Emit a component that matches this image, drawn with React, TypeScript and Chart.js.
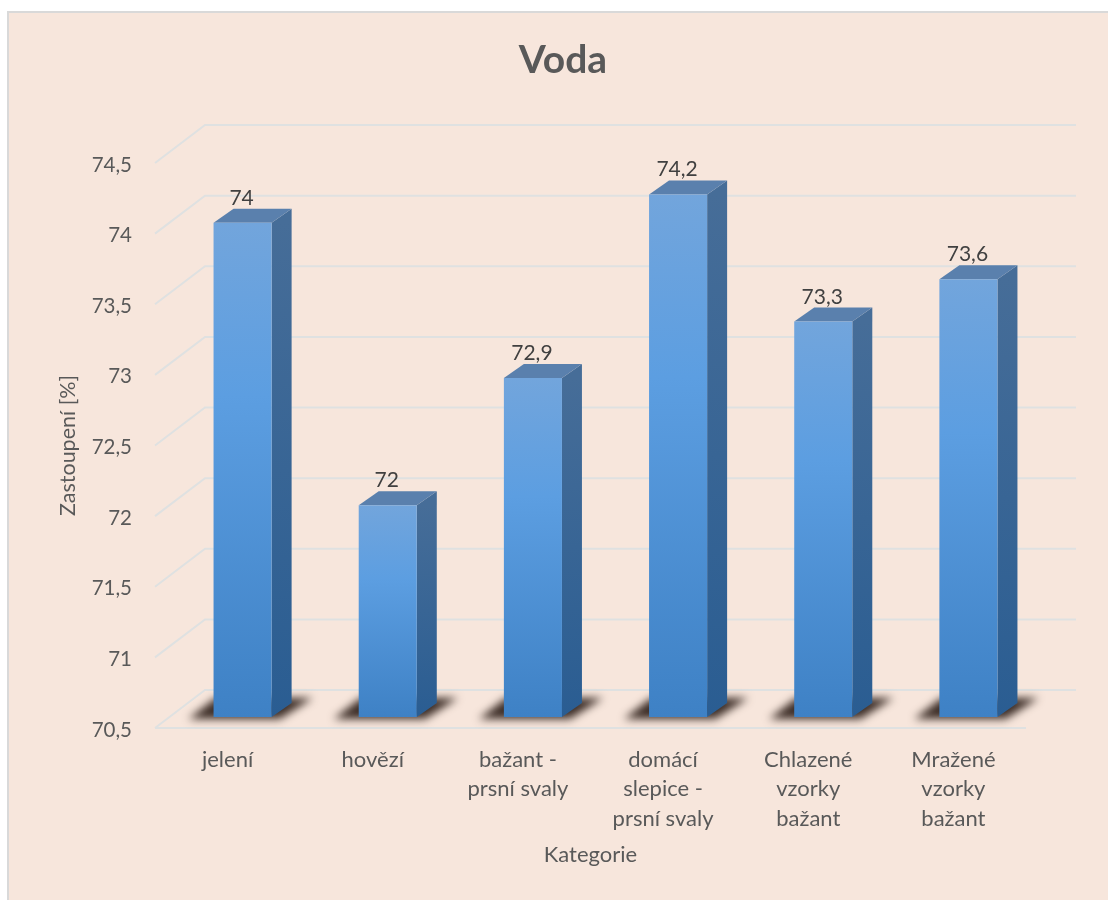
import React, { useEffect, useRef } from "react";
import { Chart, registerables } from "chart.js";

Chart.register(...registerables);

const categories = [
  "jelení",
  "hovězí",
  ["bažant -", "prsní svaly"],
  ["domácí", "slepice -", "prsní svaly"],
  ["Chlazené", "vzorky", "bažant"],
  ["Mražené", "vzorky", "bažant"],
];
const waterShare = [74, 72, 72.9, 74.2, 73.3, 73.6];
const axisMin = 70.5;
const axisMax = 74.5;
const axisStep = 0.5;

const FONT = "Lato, 'Open Sans', sans-serif";
const TEXT = "#595959";
const GRID = "#dfe1e1";

// Box projection: wall sits behind the axis plane, bars stand halfway through the depth.
const WALL_DX = 50;
const WALL_DY = -38;
const BAR_DX = 15;
const BAR_DY = -11;
const SIDE_DX = 20;
const SIDE_DY = -14;

const comma = (v: number) => String(v).replace(".", ",");

const box3d = {
  id: "box3d",
  beforeDatasetsDraw(chart: any) {
    const { ctx, chartArea, scales } = chart;
    const bars = chart.getDatasetMeta(0).data;

    // Wall and side-wall grid lines
    ctx.save();
    ctx.strokeStyle = GRID;
    ctx.lineWidth = 2;
    scales.y.ticks.forEach((t: any) => {
      const y = scales.y.getPixelForValue(t.value);
      ctx.beginPath();
      ctx.moveTo(chartArea.left, y);
      ctx.lineTo(chartArea.left + WALL_DX, y + WALL_DY);
      ctx.lineTo(chartArea.right + WALL_DX, y + WALL_DY);
      ctx.stroke();
    });
    const floorY = scales.y.getPixelForValue(axisMin);
    ctx.beginPath();
    ctx.moveTo(chartArea.left, floorY);
    ctx.lineTo(chartArea.right, floorY);
    ctx.stroke();
    ctx.restore();

    ctx.save();
    ctx.translate(BAR_DX, BAR_DY);

    // Cast shadows on the floor
    bars.forEach((b: any) => {
      const left = b.x - b.width / 2;
      const right = b.x + b.width / 2;
      ctx.save();
      ctx.filter = "blur(4px)";
      ctx.fillStyle = "rgba(50,35,28,0.95)";
      ctx.beginPath();
      ctx.moveTo(left - 25, b.base + 2);
      ctx.lineTo(left + 2, b.base - 19);
      ctx.lineTo(right + 41, b.base - 19);
      ctx.lineTo(right + 8, b.base + 2);
      ctx.closePath();
      ctx.fill();
      ctx.restore();
    });

    // Side and top faces
    bars.forEach((b: any) => {
      const right = b.x + b.width / 2;
      const left = b.x - b.width / 2;
      const side = ctx.createLinearGradient(0, b.y, 0, b.base);
      side.addColorStop(0, "#466d98");
      side.addColorStop(1, "#2a5d92");
      ctx.fillStyle = side;
      ctx.beginPath();
      ctx.moveTo(right, b.y);
      ctx.lineTo(right + SIDE_DX, b.y + SIDE_DY);
      ctx.lineTo(right + SIDE_DX, b.base + SIDE_DY);
      ctx.lineTo(right, b.base);
      ctx.closePath();
      ctx.fill();

      ctx.fillStyle = "#5a80ad";
      ctx.beginPath();
      ctx.moveTo(left, b.y);
      ctx.lineTo(left + SIDE_DX, b.y + SIDE_DY);
      ctx.lineTo(right + SIDE_DX, b.y + SIDE_DY);
      ctx.lineTo(right, b.y);
      ctx.closePath();
      ctx.fill();
    });
  },
  afterDatasetsDraw(chart: any) {
    const { ctx } = chart;
    ctx.restore();

    // Value labels above each bar
    const bars = chart.getDatasetMeta(0).data;
    ctx.save();
    ctx.font = `21px ${FONT}`;
    ctx.fillStyle = "#404040";
    ctx.textAlign = "center";
    ctx.textBaseline = "alphabetic";
    bars.forEach((b: any, i: number) => {
      ctx.fillText(comma(waterShare[i]), b.x + BAR_DX - 1, b.y + BAR_DY - 18);
    });
    ctx.restore();
  },
};

export default function App() {
  const ref = useRef<HTMLCanvasElement>(null);

  useEffect(() => {
    const chart = new Chart(ref.current!, {
      type: "bar",
      data: {
        labels: categories as any,
        datasets: [
          {
            data: waterShare,
            base: axisMin,
            barPercentage: 0.8,
            categoryPercentage: 0.5,
            clip: false as any,
            backgroundColor: (c: any) => {
              const yScale = c.chart.scales.y;
              const value = c.parsed ? c.parsed.y : undefined;
              const top = yScale && value !== undefined ? yScale.getPixelForValue(value) : NaN;
              const bottom = yScale ? yScale.getPixelForValue(axisMin) : NaN;
              if (!Number.isFinite(top) || !Number.isFinite(bottom)) return "#5b9ee0";
              const g = c.chart.ctx.createLinearGradient(0, top, 0, bottom);
              g.addColorStop(0, "#72a5dc");
              g.addColorStop(0.35, "#5c9ee1");
              g.addColorStop(1, "#3e81c5");
              return g;
            },
          },
        ],
      },
      options: {
        responsive: false,
        animation: false,
        layout: { padding: { left: 18, right: 0, top: 0, bottom: 0 } },
        plugins: {
          legend: { display: false },
          tooltip: { enabled: false },
          title: {
            display: true,
            text: "Voda",
            color: TEXT,
            font: { family: FONT, size: 39, weight: "bold" },
            padding: { top: 37, bottom: 79.2 },
          } as any,
        },
        scales: {
          x: {
            grid: { display: false },
            border: { display: false },
            ticks: {
              color: TEXT,
              font: { family: FONT, size: 22, lineHeight: 1.34 },
              maxRotation: 0,
              autoSkip: false,
              padding: 9,
            },
            title: {
              display: true,
              text: "Kategorie",
              color: TEXT,
              font: { family: FONT, size: 22 },
              padding: { top: 0, bottom: 32 },
            },
            afterFit: (s: any) => {
              s.height = 172;
            },
          },
          y: {
            min: axisMin,
            max: axisMax,
            grid: { display: false },
            border: { display: false },
            ticks: {
              stepSize: axisStep,
              color: TEXT,
              font: { family: FONT, size: 20.5 },
              padding: 15,
              labelOffset: 2,
              callback: (v: any) => comma(Number(v)),
            },
            title: {
              display: true,
              text: "Zastoupení [%]",
              color: TEXT,
              font: { family: FONT, size: 21.5 },
              padding: { top: 37, bottom: 0 },
            },
            afterFit: (s: any) => {
              s.width = 137;
            },
          },
          // Empty axis that reserves the room taken by the back wall
          margin: {
            position: "right",
            display: true,
            grid: { display: false },
            border: { display: false },
            ticks: { display: false },
            afterFit: (s: any) => {
              s.width = 82;
            },
          },
        },
      } as any,
      plugins: [box3d],
    });
    return () => chart.destroy();
  }, []);

  return (
    <div style={{ position: "absolute", left: 0, top: 0, width: 1108, height: 900, overflow: "hidden", background: "#fff" }}>
      <div
        style={{
          position: "absolute",
          left: 7,
          top: 11,
          width: 1110,
          height: 900,
          background: "#f7e6dc",
          border: "2px solid #d9d9d9",
        }}
      />
      <canvas ref={ref} width={1108} height={900} style={{ position: "absolute", left: 0, top: 0 }} />
    </div>
  );
}
